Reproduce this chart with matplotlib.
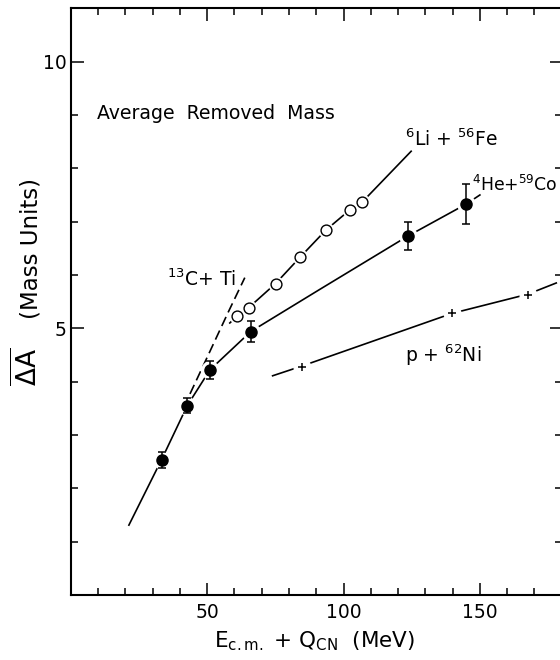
import matplotlib
matplotlib.use("Agg")
import matplotlib.pyplot as plt
from matplotlib.ticker import MultipleLocator, FixedLocator

plt.rcParams["font.family"] = ["DejaVu Sans"]
plt.rcParams["mathtext.fontset"] = "dejavusans"
plt.rcParams["mathtext.default"] = "regular"

# 4He + 59Co measurements (filled circles with errors)
he_x = [33.3, 42.7, 51.0, 66.0, 123.6, 145.0]
he_y = [2.54, 3.55, 4.22, 4.94, 6.73, 7.33]
he_err = [0.15, 0.14, 0.17, 0.19, 0.27, 0.38]

# 6Li + 56Fe measurements (open circles)
li_x = [61.0, 65.3, 75.1, 84.2, 93.5, 102.3, 106.9]
li_y = [5.23, 5.39, 5.84, 6.34, 6.84, 7.22, 7.37]

# p + 62Ni measurements (crosses)
ni_x = [84.6, 139.8, 167.6]
ni_y = [4.28, 5.28, 5.63]

# Guide curves drawn through each system
he_fit_x = [21.3, 33.3, 42.7, 51.0, 66.0, 91.3, 123.6, 145.0, 150.0]
he_fit_y = [1.31, 2.54, 3.55, 4.22, 4.94, 5.73, 6.73, 7.33, 7.50]
li_fit_x = [58.3, 61.0, 65.3, 75.1, 84.2, 93.5, 102.3, 106.9, 124.8]
li_fit_y = [5.10, 5.23, 5.39, 5.84, 6.34, 6.84, 7.22, 7.37, 8.32]
ni_fit_x = [74.0, 84.6, 139.8, 167.6, 178.0]
ni_fit_y = [4.11, 4.29, 5.28, 5.64, 5.85]
c13_fit_x = [43.7, 50.4, 57.7, 63.8]
c13_fit_y = [3.77, 4.50, 5.30, 5.95]

x_major = [50, 100, 150]
y_major = [5, 10]

fig = plt.figure(figsize=(5.6, 6.6), dpi=100)
ax = fig.add_axes([70.8 / 560, 65 / 660, (561.7 - 70.8) / 560, (595 - 8.3) / 660])
ax.set_xlim(0, 180)
ax.set_ylim(0, 11)

lw = 1.2
# curves
ax.plot(he_fit_x, he_fit_y, color="k", lw=lw, zorder=2)
ax.plot(li_fit_x, li_fit_y, color="k", lw=lw, zorder=2)
ax.plot(ni_fit_x, ni_fit_y, color="k", lw=lw, zorder=2)
ax.plot(c13_fit_x, c13_fit_y, color="k", lw=lw, ls=(0, (6, 3)), zorder=2)

# white gaps around the symbols
ax.plot(he_x, he_y, "o", ms=12.5, color="white", zorder=3)
ax.plot(li_x, li_y, "o", ms=10.5, color="white", zorder=3)
ax.plot(ni_x, ni_y, "o", ms=12, color="white", zorder=3)

# symbols
ax.errorbar(he_x, he_y, yerr=he_err, fmt="none", ecolor="k", elinewidth=1.1,
            capsize=3, capthick=1.1, zorder=4)
ax.plot(he_x, he_y, "o", ms=8, color="k", zorder=5)
ax.plot(li_x, li_y, "o", ms=7.8, mfc="white", mec="k", mew=1.0, zorder=5)
ax.plot(ni_x, ni_y, "+", ms=6, mec="k", mew=1.1, zorder=5)

# labels inside the frame
ax.text(9.6, 8.93, "Average  Removed  Mass", fontsize=13.6, ha="left", va="baseline")
ax.text(122.4, 8.41, r"$^{6}$Li + $^{56}$Fe", fontsize=13.5, ha="left", va="baseline")
ax.text(147.0, 7.57, r"$^{4}$He+$^{59}$Co", fontsize=12.4, ha="left", va="baseline",
        clip_on=False)
ax.text(35.2, 5.79, r"$^{13}$C+ Ti", fontsize=13.5, ha="left", va="baseline")
ax.text(122.4, 4.36, r"p + $^{62}$Ni", fontsize=13.5, ha="left", va="baseline")

# frame and ticks
for s in ax.spines.values():
    s.set_linewidth(1.5)
ax.xaxis.set_major_locator(FixedLocator(x_major))
ax.xaxis.set_minor_locator(MultipleLocator(10))
ax.yaxis.set_major_locator(FixedLocator(y_major))
ax.yaxis.set_minor_locator(MultipleLocator(1))
ax.tick_params(which="both", direction="in", top=True, right=True, width=1.1,
               labelsize=13.5)
ax.tick_params(which="major", length=9)
ax.tick_params(which="minor", length=5)
ax.tick_params(axis="x", pad=6)
ax.tick_params(axis="y", pad=3)

fig.text(0.5 * (218 + 412) / 560, 1 - 641 / 660, r"E$_{c.m.}$ + Q$_{CN}$  (MeV)",
         fontsize=15.5, ha="center", va="center")
# y-axis title: barred Delta-A followed by the unit
fig.text(31 / 560, 1 - 249 / 660, "(Mass Units)",
         fontsize=16.5, rotation=90, ha="center", va="center")
fig.text(27 / 560, 1 - 367 / 660, r"$\overline{\Delta A}$",
         fontsize=19, rotation=90, ha="center", va="center")

fig.savefig("out.png", dpi=100)
